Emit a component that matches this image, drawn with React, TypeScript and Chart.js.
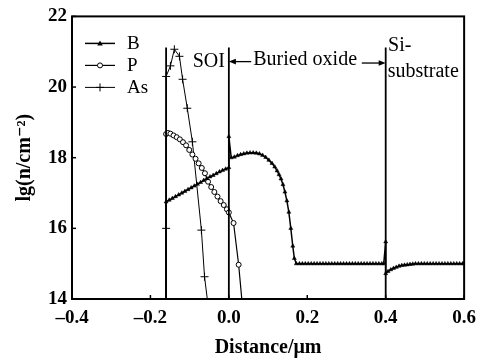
import React, { useEffect, useRef } from 'react';
import { Chart, registerables } from 'chart.js';

Chart.register(...registerables);

// ---------- data ----------
const X_TICKS = [-0.4, -0.2, 0, 0.2, 0.4, 0.6];
const X_TICK_LABELS = ['–0.4', '–0.2', '0.0', '0.2', '0.4', '0.6'];
const Y_TICKS = [14, 16, 18, 20, 22];
const Y_TICK_LABELS = ['14', '16', '18', '20', '22'];
const X_TITLE = 'Distance/μm';
const Y_TITLE = 'lg(n/cm⁻²)';
const SERIES_NAMES = ['B', 'P', 'As'];

const B_POINTS: [number, number][] = [
  [-0.16, 14], [-0.16, 16.75], [-0.152, 16.8], [-0.144, 16.85], [-0.136, 16.9], [-0.128, 16.95],
  [-0.12, 17.0], [-0.112, 17.05], [-0.104, 17.1], [-0.096, 17.15], [-0.088, 17.2], [-0.08, 17.25],
  [-0.072, 17.3], [-0.064, 17.36], [-0.056, 17.41], [-0.048, 17.46], [-0.04, 17.5], [-0.032, 17.55],
  [-0.024, 17.6], [-0.016, 17.64], [-0.008, 17.68], [0, 17.72],
  [0, 18.6], [0.006, 18.0], [0.014, 18.02], [0.022, 18.06], [0.03, 18.09], [0.038, 18.11],
  [0.046, 18.13], [0.054, 18.14], [0.062, 18.14], [0.07, 18.13], [0.078, 18.11], [0.086, 18.07],
  [0.094, 18.01], [0.102, 17.93], [0.11, 17.84], [0.117, 17.74], [0.123, 17.63], [0.128, 17.52],
  [0.133, 17.4], [0.138, 17.24], [0.143, 17.03], [0.148, 16.78], [0.153, 16.46], [0.158, 16.0],
  [0.163, 15.5], [0.167, 15.15], [0.172, 15.0],
  [0.18, 15], [0.1875, 15], [0.195, 15], [0.2025, 15], [0.21, 15], [0.2175, 15], [0.225, 15],
  [0.2325, 15], [0.24, 15], [0.2475, 15], [0.255, 15], [0.2625, 15], [0.27, 15], [0.2775, 15],
  [0.285, 15], [0.2925, 15], [0.3, 15], [0.3075, 15], [0.315, 15], [0.3225, 15], [0.33, 15],
  [0.3375, 15], [0.345, 15], [0.3525, 15], [0.36, 15], [0.3675, 15], [0.375, 15], [0.3825, 15],
  [0.39, 15], [0.395, 15.0],
  [0.4, 15.62], [0.4, 14.72], [0.406, 14.78], [0.413, 14.83], [0.42, 14.87], [0.427, 14.9],
  [0.434, 14.93], [0.441, 14.95], [0.448, 14.96], [0.455, 14.97], [0.462, 14.98], [0.469, 14.99],
  [0.476, 15], [0.4835, 15], [0.491, 15], [0.4985, 15], [0.506, 15], [0.5135, 15], [0.521, 15],
  [0.5285, 15], [0.536, 15], [0.5435, 15], [0.551, 15], [0.5585, 15], [0.566, 15], [0.5735, 15],
  [0.581, 15], [0.5885, 15], [0.596, 15], [0.6, 15],
];

const P_POINTS: [number, number][] = [
  [-0.16, 14], [-0.16, 18.67], [-0.155, 18.7], [-0.149, 18.68], [-0.141, 18.63], [-0.133, 18.58],
  [-0.125, 18.52], [-0.117, 18.44], [-0.109, 18.35], [-0.101, 18.22], [-0.093, 18.09],
  [-0.085, 17.97], [-0.077, 17.84], [-0.069, 17.71], [-0.061, 17.56], [-0.053, 17.32],
  [-0.045, 17.17], [-0.037, 17.03], [-0.029, 16.9], [-0.021, 16.77], [-0.013, 16.66],
  [-0.005, 16.54], [0, 16.45], [0.012, 16.15], [0.025, 14.97], [0.033, 14.0],
];

const AS_POINTS: [number, number][] = [
  [-0.16, 14], [-0.16, 16.0], [-0.16, 20.3], [-0.149, 20.6], [-0.139, 21.07], [-0.126, 20.87],
  [-0.118, 20.22], [-0.106, 19.4], [-0.093, 18.45], [-0.07, 15.95], [-0.062, 14.63], [-0.055, 14.0],
];

const BOUNDARIES = [-0.16, 0, 0.4];
const BOUNDARY_BOTTOM = 14;
const BOUNDARY_TOP = 21.12;

// region labels in data coordinates
const SOI_LABEL = { text: 'SOI', x: -0.051, y: 20.72 };
const OXIDE_LABEL = { text: 'Buried oxide', x: 0.062, y: 20.76 };
const OXIDE_ARROW_LEFT = { x1: 0.057, x2: 0.0, y: 20.72 };
const OXIDE_ARROW_RIGHT = { x1: 0.339, x2: 0.4, y: 20.68 };
const SI_LABEL_1 = { text: 'Si-', x: 0.406, y: 21.18 };
const SI_LABEL_2 = { text: 'substrate', x: 0.405, y: 20.42 };

const SERIF = '"Liberation Serif", "DejaVu Serif", serif';

function drawMarker(ctx: CanvasRenderingContext2D, style: string, x: number, y: number) {
  ctx.save();
  ctx.strokeStyle = '#000';
  ctx.fillStyle = '#000';
  ctx.lineWidth = 1;
  if (style === 'triangle') {
    ctx.beginPath();
    ctx.moveTo(x, y - 3);
    ctx.lineTo(x + 2.8, y + 2);
    ctx.lineTo(x - 2.8, y + 2);
    ctx.closePath();
    ctx.fill();
  } else if (style === 'circle') {
    ctx.beginPath();
    ctx.arc(x, y, 2.5, 0, Math.PI * 2);
    ctx.fillStyle = '#fff';
    ctx.fill();
    ctx.stroke();
  } else {
    ctx.beginPath();
    ctx.moveTo(x - 4, y);
    ctx.lineTo(x + 4, y);
    ctx.moveTo(x, y - 4);
    ctx.lineTo(x, y + 4);
    ctx.stroke();
  }
  ctx.restore();
}

function arrow(ctx: CanvasRenderingContext2D, x1: number, x2: number, y: number) {
  const dir = Math.sign(x2 - x1);
  ctx.beginPath();
  ctx.moveTo(x1, y);
  ctx.lineTo(x2 - dir * 5, y);
  ctx.lineWidth = 1.3;
  ctx.stroke();
  ctx.beginPath();
  ctx.moveTo(x2, y);
  ctx.lineTo(x2 - dir * 7, y - 2.8);
  ctx.lineTo(x2 - dir * 7, y + 2.8);
  ctx.closePath();
  ctx.fill();
}

const framePlugin = {
  id: 'frameAndDecor',
  afterDatasetsDraw(chart: any) {
    const { ctx, chartArea: a, scales } = chart;
    const xs = scales.x;
    const ys = scales.y;
    ctx.save();
    ctx.strokeStyle = '#000';
    ctx.fillStyle = '#000';
    // frame
    ctx.lineWidth = 2;
    ctx.strokeRect(a.left, a.top, a.right - a.left, a.bottom - a.top);
    // inward ticks
    ctx.lineWidth = 1.5;
    X_TICKS.forEach((v) => {
      const px = xs.getPixelForValue(v);
      ctx.beginPath();
      ctx.moveTo(px, a.bottom);
      ctx.lineTo(px, a.bottom - 4);
      ctx.stroke();
    });
    Y_TICKS.forEach((v) => {
      const py = ys.getPixelForValue(v);
      ctx.beginPath();
      ctx.moveTo(a.left, py);
      ctx.lineTo(a.left + 4, py);
      ctx.stroke();
    });
    // region labels
    ctx.font = `20px ${SERIF}`;
    ctx.textBaseline = 'middle';
    ctx.textAlign = 'center';
    ctx.fillText(SOI_LABEL.text, xs.getPixelForValue(SOI_LABEL.x), ys.getPixelForValue(SOI_LABEL.y));
    ctx.textAlign = 'left';
    ctx.fillText(OXIDE_LABEL.text, xs.getPixelForValue(OXIDE_LABEL.x), ys.getPixelForValue(OXIDE_LABEL.y));
    ctx.fillText(SI_LABEL_1.text, xs.getPixelForValue(SI_LABEL_1.x), ys.getPixelForValue(SI_LABEL_1.y));
    ctx.fillText(SI_LABEL_2.text, xs.getPixelForValue(SI_LABEL_2.x), ys.getPixelForValue(SI_LABEL_2.y));
    arrow(ctx, xs.getPixelForValue(OXIDE_ARROW_LEFT.x1), xs.getPixelForValue(OXIDE_ARROW_LEFT.x2), ys.getPixelForValue(OXIDE_ARROW_LEFT.y));
    arrow(ctx, xs.getPixelForValue(OXIDE_ARROW_RIGHT.x1), xs.getPixelForValue(OXIDE_ARROW_RIGHT.x2), ys.getPixelForValue(OXIDE_ARROW_RIGHT.y));
    // legend
    const styles = ['triangle', 'circle', 'cross'];
    const widths = [1.5, 1.2, 1];
    ctx.font = `19px ${SERIF}`;
    ctx.textAlign = 'left';
    SERIES_NAMES.forEach((name, i) => {
      const y = a.top + 27 + i * 22;
      const x0 = a.left + 13;
      ctx.lineWidth = widths[i];
      ctx.beginPath();
      ctx.moveTo(x0, y);
      ctx.lineTo(x0 + 30, y);
      ctx.stroke();
      drawMarker(ctx, styles[i], x0 + 15, y);
      ctx.fillText(name, x0 + 42, y + 1);
    });
    ctx.restore();
  },
};

export default function App() {
  const ref = useRef<HTMLCanvasElement | null>(null);
  useEffect(() => {
    document.body.style.margin = '0';
    const canvas = ref.current;
    if (!canvas) return;
    const hideBase = (r: number) => (c: any) => (c.raw && c.raw.y <= 14 ? 0 : r);
    const toXY = (pts: [number, number][]) => pts.map(([x, y]) => ({ x, y }));
    const boundarySets = BOUNDARIES.map((bx) => ({
      label: 'boundary',
      data: [{ x: bx, y: BOUNDARY_BOTTOM }, { x: bx, y: BOUNDARY_TOP }],
      borderColor: '#000',
      borderWidth: 1.8,
      pointRadius: 0,
    }));
    const chart = new Chart(canvas, {
      type: 'line',
      data: {
        datasets: [
          ...boundarySets,
          {
            label: SERIES_NAMES[0],
            data: toXY(B_POINTS),
            borderColor: '#000',
            borderWidth: 1.5,
            pointStyle: 'triangle',
            pointRadius: hideBase(2.3),
            pointBackgroundColor: '#000',
            pointBorderColor: '#000',
            pointBorderWidth: 0.5,
          },
          {
            label: SERIES_NAMES[1],
            data: toXY(P_POINTS),
            borderColor: '#000',
            borderWidth: 1.2,
            pointStyle: 'circle',
            pointRadius: hideBase(2.5),
            pointBackgroundColor: '#fff',
            pointBorderColor: '#000',
            pointBorderWidth: 1,
          },
          {
            label: SERIES_NAMES[2],
            data: toXY(AS_POINTS),
            borderColor: '#000',
            borderWidth: 1,
            pointStyle: 'cross',
            pointRadius: hideBase(4),
            pointBorderColor: '#000',
            pointBorderWidth: 1,
          },
        ] as any,
      },
      options: {
        animation: false,
        responsive: false,
        parsing: true,
        layout: { padding: { left: 0, right: 18, top: 16, bottom: 0 } },
        plugins: { legend: { display: false }, tooltip: { enabled: false } },
        elements: { line: { tension: 0 } },
        scales: {
          x: {
            type: 'linear',
            min: -0.4,
            max: 0.6,
            afterBuildTicks: (s: any) => { s.ticks = X_TICKS.map((v) => ({ value: v })); },
            afterFit: (s: any) => { s.height = 61; },
            grid: { display: false, drawTicks: false },
            border: { display: false },
            ticks: {
              padding: 8,
              color: '#000',
              maxRotation: 0,
              autoSkip: false,
              font: { family: SERIF, size: 19, weight: 'bold' },
              callback: (_v: any, i: number) => X_TICK_LABELS[i],
            },
            title: {
              display: true,
              text: X_TITLE,
              color: '#000',
              font: { family: SERIF, size: 20, weight: 'bold' },
              padding: { top: 0, bottom: 0 },
            },
          },
          y: {
            type: 'linear',
            min: 14,
            max: 22,
            afterBuildTicks: (s: any) => { s.ticks = Y_TICKS.map((v) => ({ value: v })); },
            afterFit: (s: any) => { s.width = 72; },
            grid: { display: false, drawTicks: false },
            border: { display: false },
            ticks: {
              padding: 5,
              color: '#000',
              autoSkip: false,
              font: { family: SERIF, size: 19, weight: 'bold' },
              callback: (_v: any, i: number) => Y_TICK_LABELS[i],
            },
            title: {
              display: true,
              text: Y_TITLE,
              color: '#000',
              font: { family: SERIF, size: 20, weight: 'bold' },
              padding: { top: 13, bottom: 0 },
            },
          },
        },
      } as any,
      plugins: [framePlugin],
    });
    return () => chart.destroy();
  }, []);
  return <canvas ref={ref} width={484} height={360} style={{ display: 'block' }} />;
}
